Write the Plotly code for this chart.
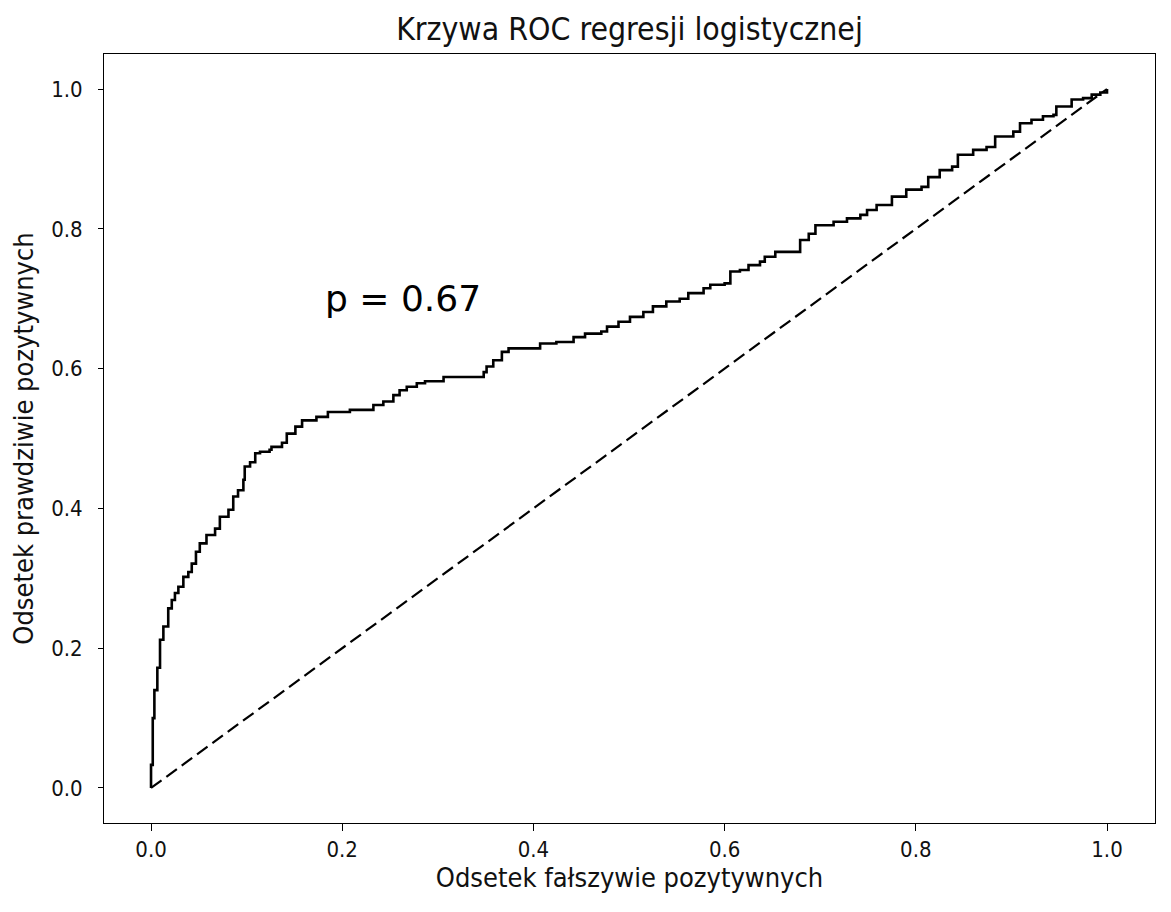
import plotly.graph_objects as go

# ROC curve points (false positive rate, true positive rate)
fpr = [0.0, 0.0, 0.0018, 0.0035, 0.0066, 0.0094, 0.0129, 0.018, 0.0217, 0.025,
       0.0286, 0.0338, 0.039, 0.0426, 0.047, 0.051, 0.058, 0.067, 0.072, 0.081,
       0.086, 0.091, 0.0966, 0.098, 0.1036, 0.109, 0.114, 0.124, 0.126, 0.137,
       0.142, 0.151, 0.158, 0.173, 0.185, 0.208, 0.2326, 0.243, 0.2535, 0.260,
       0.2675, 0.278, 0.2866, 0.306, 0.348, 0.351, 0.358, 0.367, 0.374, 0.407,
       0.424, 0.442, 0.454, 0.471, 0.477, 0.489, 0.501, 0.515, 0.525, 0.539,
       0.553, 0.562, 0.578, 0.585, 0.600, 0.606, 0.616, 0.625, 0.637, 0.642,
       0.653, 0.679, 0.688, 0.695, 0.714, 0.728, 0.742, 0.749, 0.759, 0.775,
       0.790, 0.806, 0.813, 0.825, 0.838, 0.844, 0.860, 0.874, 0.883, 0.902,
       0.909, 0.921, 0.933, 0.944, 0.947, 0.963, 0.975, 0.984, 0.993, 1.0]
tpr = [0.0, 0.033, 0.10, 0.14, 0.172, 0.212, 0.231, 0.257, 0.269, 0.279,
       0.288, 0.302, 0.309, 0.321, 0.338, 0.350, 0.362, 0.371, 0.388, 0.398,
       0.417, 0.426, 0.441, 0.460, 0.466, 0.479, 0.481, 0.484, 0.488, 0.494,
       0.507, 0.517, 0.526, 0.531, 0.538, 0.541, 0.548, 0.553, 0.562, 0.569,
       0.574, 0.579, 0.582, 0.588, 0.595, 0.603, 0.612, 0.624, 0.629, 0.636,
       0.638, 0.645, 0.650, 0.653, 0.660, 0.667, 0.674, 0.681, 0.689, 0.696,
       0.700, 0.708, 0.715, 0.720, 0.722, 0.739, 0.741, 0.748, 0.753, 0.760,
       0.767, 0.784, 0.793, 0.805, 0.810, 0.815, 0.820, 0.827, 0.834, 0.846,
       0.856, 0.860, 0.874, 0.884, 0.889, 0.906, 0.913, 0.917, 0.932, 0.939,
       0.951, 0.956, 0.961, 0.963, 0.975, 0.985, 0.987, 0.992, 0.995, 1.0]

diag_x = [0.0, 1.0]
diag_y = [0.0, 1.0]

tick_vals = [0.0, 0.2, 0.4, 0.6, 0.8, 1.0]
tick_text = ["0.0", "0.2", "0.4", "0.6", "0.8", "1.0"]

title_text = "Krzywa ROC regresji logistycznej"
x_label = "Odsetek fałszywie pozytywnych"
y_label = "Odsetek prawdziwie pozytywnych"
annot_text = "p = 0.67"
annot_x = 0.18
annot_y = 0.701

FONT = "DejaVu Sans Condensed, DejaVu Sans"
INK = "#111111"

fig = go.Figure()
fig.add_trace(go.Scatter(x=fpr, y=tpr, mode="lines", line=dict(color="black", width=2.6, shape="hv"),
                         showlegend=False, hoverinfo="skip"))
fig.add_trace(go.Scatter(x=diag_x, y=diag_y, mode="lines",
                         line=dict(color="black", width=2.2, dash="13px,6px"),
                         showlegend=False, hoverinfo="skip"))

fig.add_annotation(x=annot_x, y=annot_y, text=annot_text, showarrow=False,
                   xanchor="left", yanchor="middle",
                   font=dict(family="DejaVu Sans", size=36, color="black"))

axis_common = dict(showgrid=False, zeroline=False, showline=True, linecolor="black", linewidth=1,
                   mirror=True, ticks="outside", tickwidth=1, tickcolor="black",
                   tickvals=tick_vals, ticktext=tick_text,
                   tickfont=dict(family=FONT, size=22, color=INK))

fig.update_layout(
    width=1163, height=904,
    paper_bgcolor="white", plot_bgcolor="white",
    margin=dict(l=96, r=16, t=46, b=89),
    title=dict(text=title_text, x=0.5, xanchor="center", xref="paper",
               y=1 - 21 / 904, yref="container", yanchor="middle",
               font=dict(family=FONT, size=31.7, color=INK)),
    xaxis=dict(range=[-0.0492, 1.0502], ticklen=7, ticklabelstandoff=0,
               title=dict(text=x_label, standoff=4, font=dict(family=FONT, size=27, color=INK)),
               **axis_common),
    yaxis=dict(range=[-0.0501, 1.0501], ticklen=5, ticklabelstandoff=11,
               title=dict(text=y_label, standoff=10, font=dict(family=FONT, size=27, color=INK)),
               **axis_common),
)

fig.write_html("out.html")
